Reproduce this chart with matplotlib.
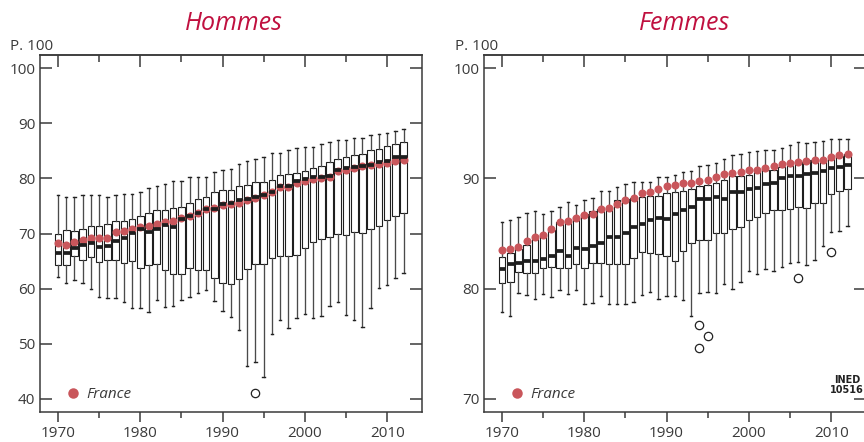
import matplotlib
matplotlib.use('Agg')
import matplotlib.pyplot as plt
from matplotlib.ticker import MultipleLocator

years = list(range(1970, 2013))

# Hommes: whisker ends, quartiles, median, and France
h_low = [62.1, 61.0, 61.5, 61.0, 60.0, 58.5, 58.3, 58.3, 57.5, 56.4,
         56.4, 55.7, 57.9, 56.7, 56.9, 57.9, 58.5, 59.2, 59.7, 57.7,
         55.9, 54.8, 52.4, 46.0, 46.7, 44.0, 51.8, 54.3, 52.8, 54.6,
         55.4, 54.6, 55.0, 56.9, 57.5, 55.2, 54.3, 53.1, 56.4, 60.1,
         60.7, 62.0, 62.9]
h_q1 = [64.3, 64.3, 66.0, 65.2, 65.7, 64.8, 65.2, 65.2, 64.6, 65.0,
        63.7, 64.2, 64.4, 63.3, 62.7, 62.6, 63.8, 63.4, 63.4, 62.0,
        61.1, 60.8, 61.8, 63.6, 64.5, 64.5, 65.6, 65.9, 65.9, 66.1,
        67.3, 68.4, 69.0, 69.4, 69.9, 69.7, 70.2, 70.1, 70.8, 71.4,
        72.5, 73.2, 73.7]
h_med = [66.5, 66.5, 67.4, 68.0, 68.2, 67.5, 67.8, 68.7, 69.2, 70.1,
         70.8, 70.3, 70.9, 71.6, 71.2, 72.7, 73.1, 73.7, 74.5, 74.5,
         75.3, 75.5, 76.0, 76.2, 76.6, 77.0, 77.6, 78.6, 78.6, 79.6,
         79.9, 80.2, 80.3, 80.5, 81.6, 81.9, 82.1, 82.2, 82.5, 83.0,
         83.2, 83.8, 83.9]
h_q3 = [70.0, 70.7, 70.5, 70.8, 71.3, 71.4, 71.7, 72.3, 72.3, 72.7,
        73.2, 73.7, 74.2, 74.2, 74.7, 74.9, 75.5, 76.2, 76.7, 77.5,
        77.9, 77.9, 78.6, 78.8, 79.3, 79.3, 79.8, 80.6, 80.8, 80.9,
        81.4, 81.9, 82.3, 83.0, 83.5, 83.9, 84.2, 84.5, 85.2, 85.4,
        85.8, 86.3, 86.6]
h_high = [77.0, 76.6, 76.7, 76.9, 76.9, 76.9, 76.7, 76.9, 77.1, 77.2,
          77.5, 78.3, 78.6, 79.0, 79.6, 79.6, 80.2, 80.3, 80.3, 81.2,
          81.6, 81.7, 82.6, 83.1, 83.5, 83.8, 84.6, 84.7, 85.2, 85.5,
          85.7, 85.7, 86.3, 86.6, 86.9, 87.0, 87.3, 87.3, 87.8, 88.1,
          88.3, 88.6, 88.9]
h_france = [68.2, 68.0, 68.4, 68.9, 69.1, 69.2, 69.2, 70.2, 70.4, 70.8,
            71.2, 71.4, 71.7, 72.0, 72.3, 72.8, 73.2, 73.8, 74.4, 74.7,
            75.1, 75.3, 75.6, 76.1, 76.4, 77.0, 77.5, 78.4, 78.4, 79.2,
            79.5, 79.9, 80.1, 80.3, 81.3, 81.6, 81.8, 82.2, 82.4, 82.6,
            82.8, 83.2, 83.4]
h_outliers = [(1994, 41.0)]

# Femmes
f_low = [77.9, 77.5, 79.6, 79.4, 79.1, 79.5, 79.2, 79.9, 79.5, 79.9,
         78.6, 78.7, 79.3, 78.6, 78.6, 78.6, 78.8, 79.4, 79.7, 79.1,
         79.3, 79.3, 79.0, 77.5, 79.6, 79.7, 79.6, 80.4, 80.0, 80.6,
         81.6, 81.3, 81.8, 81.6, 82.0, 82.3, 82.4, 82.1, 82.6, 83.9,
         85.1, 85.2, 85.7]
f_q1 = [80.5, 80.6, 81.5, 81.4, 81.4, 81.9, 82.0, 81.9, 81.9, 82.2,
        81.9, 82.3, 82.3, 82.2, 82.2, 82.2, 82.8, 83.3, 83.2, 83.1,
        83.0, 82.5, 83.4, 84.1, 84.4, 84.4, 85.0, 85.0, 85.4, 85.6,
        86.2, 86.5, 86.9, 87.1, 87.1, 87.2, 87.4, 87.3, 87.8, 87.8,
        88.6, 88.9, 89.0]
f_med = [81.8, 82.2, 82.3, 82.5, 82.5, 82.7, 83.0, 83.4, 83.0, 83.7,
         83.6, 83.9, 84.1, 84.7, 84.7, 85.0, 85.6, 85.9, 86.2, 86.4,
         86.3, 86.8, 87.1, 87.4, 88.1, 88.1, 88.3, 88.1, 88.8, 88.8,
         89.0, 89.1, 89.5, 89.6, 90.0, 90.2, 90.2, 90.4, 90.5, 90.7,
         90.9, 91.0, 91.2]
f_q3 = [82.9, 83.2, 83.6, 84.0, 84.5, 84.8, 85.3, 86.0, 86.2, 86.5,
        86.8, 87.0, 87.2, 87.3, 88.0, 88.1, 88.2, 88.3, 88.4, 88.4,
        88.7, 88.8, 88.9, 89.0, 89.3, 89.4, 89.6, 89.9, 90.2, 90.2,
        90.3, 90.6, 90.8, 90.8, 91.0, 91.1, 91.5, 91.7, 91.7, 91.7,
        91.8, 92.0, 92.2]
f_high = [86.0, 86.2, 86.5, 86.9, 87.0, 86.8, 87.0, 87.4, 87.9, 87.6,
          88.0, 88.2, 88.9, 88.9, 89.2, 89.5, 89.7, 89.7, 89.7, 90.1,
          90.1, 90.3, 90.6, 90.7, 91.1, 91.2, 91.4, 91.8, 92.1, 92.2,
          92.4, 92.5, 92.6, 92.6, 92.8, 93.0, 93.3, 93.2, 93.3, 93.4,
          93.6, 93.6, 93.6]
f_france = [83.5, 83.6, 83.8, 84.3, 84.7, 84.9, 85.4, 86.0, 86.1, 86.4,
            86.7, 86.8, 87.2, 87.3, 87.7, 88.0, 88.2, 88.7, 88.8, 89.0,
            89.3, 89.4, 89.6, 89.6, 89.8, 89.9, 90.1, 90.4, 90.5, 90.6,
            90.8, 90.8, 90.9, 91.1, 91.3, 91.4, 91.5, 91.6, 91.7, 91.7,
            91.9, 92.1, 92.2]
f_outliers = [(1994, 76.7), (1994, 74.6), (1995, 75.7), (2006, 81.0), (2010, 83.3)]

RED = '#C9565B'
TITLE = '#C0103F'
INK = '#3a3a3a'

plt.rcParams['font.family'] = ['Open Sans', 'DejaVu Sans']
plt.rcParams['font.size'] = 11
plt.rcParams['axes.linewidth'] = 1.1
plt.rcParams['axes.edgecolor'] = INK
plt.rcParams['xtick.color'] = INK
plt.rcParams['ytick.color'] = INK


def make_stats(low, q1, med, q3, high, outliers):
    stats = []
    for i, yr in enumerate(years):
        stats.append(dict(whislo=low[i], q1=q1[i], med=med[i], q3=q3[i],
                          whishi=high[i],
                          fliers=[v for (y, v) in outliers if y == yr]))
    return stats


def draw_panel(ax, stats, france, ylim, legend_y):
    parts = ax.bxp(stats, positions=years, widths=0.8, capwidths=0.3,
                   patch_artist=True, manage_ticks=False, zorder=2,
                   boxprops=dict(facecolor='white', edgecolor='#1e1e1e', linewidth=0.8),
                   whiskerprops=dict(color='#4a4a4a', linewidth=0.95),
                   capprops=dict(color='#222222', linewidth=1.0),
                   medianprops=dict(color='#1e1e1e', linewidth=2.7, solid_capstyle='butt'),
                   flierprops=dict(marker='o', markerfacecolor='none',
                                   markeredgecolor='#222222', markersize=6,
                                   markeredgewidth=0.9))
    for m in parts['medians']:
        m.set_zorder(4)
    ax.plot(years, france, 'o', color=RED, markersize=5.8,
            markeredgewidth=0, zorder=3, label='France')

    ax.set_xlim(1967.85, 2014.2)
    ax.set_ylim(*ylim)
    ax.xaxis.set_major_locator(MultipleLocator(10))
    ax.xaxis.set_minor_locator(MultipleLocator(5))
    ax.yaxis.set_major_locator(MultipleLocator(10))
    ax.tick_params(axis='x', which='major', direction='out', length=7,
                   width=1.1, pad=3, labelcolor=INK)
    ax.tick_params(axis='x', which='minor', direction='out', length=4.3, width=1.1)
    ax.tick_params(axis='y', which='major', direction='in', length=8.5,
                   width=1.1, pad=3.5, left=True, right=True, labelcolor=INK)

    top = ax.secondary_xaxis('top')
    top.xaxis.set_major_locator(MultipleLocator(10))
    top.xaxis.set_minor_locator(MultipleLocator(5))
    top.tick_params(which='major', direction='in', length=8.5, width=1.1, labeltop=False)
    top.tick_params(which='minor', direction='in', length=5.2, width=1.1)

    leg = ax.legend(loc='lower left', bbox_to_anchor=(0.066, legend_y),
                    frameon=False, handlelength=1.0, handletextpad=0.35,
                    borderpad=0, borderaxespad=0, markerscale=1.3,
                    prop=dict(style='italic', size=11))
    for t in leg.get_texts():
        t.set_color(INK)


fig = plt.figure(figsize=(8.64, 4.42), dpi=100)
ax_h = fig.add_axes([40.3 / 864, 30 / 442, 381.4 / 864, 357 / 442])
ax_f = fig.add_axes([484.3 / 864, 30 / 442, 381.4 / 864, 357 / 442])

draw_panel(ax_h, make_stats(h_low, h_q1, h_med, h_q3, h_high, h_outliers),
           h_france, (37.6, 102.4), 0.028)
draw_panel(ax_f, make_stats(f_low, f_q1, f_med, f_q3, f_high, f_outliers),
           f_france, (68.8, 101.2), 0.028)

fig.text(234 / 864, 1 - 23 / 442, 'Hommes', ha='center', va='center',
         fontsize=18, style='italic', color=TITLE)
fig.text(685 / 864, 1 - 23 / 442, 'Femmes', ha='center', va='center',
         fontsize=18, style='italic', color=TITLE)
fig.text(10 / 864, 1 - 46 / 442, 'P. 100', ha='left', va='center', color=INK)
fig.text(455 / 864, 1 - 46 / 442, 'P. 100', ha='left', va='center', color=INK)
fig.text(847 / 864, 1 - 385 / 442, 'INED\n10516', ha='center', va='center',
         fontsize=7, fontweight='bold', color='#222222', linespacing=1.0,
         family=['Liberation Sans Narrow', 'DejaVu Sans'])

fig.savefig('out.png', dpi=100)
